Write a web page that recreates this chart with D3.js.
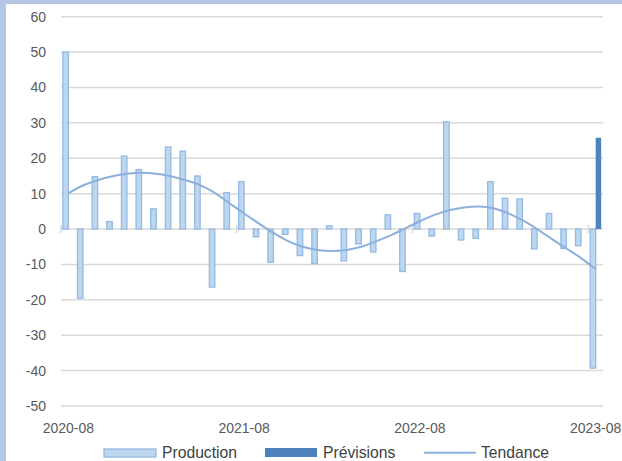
<!DOCTYPE html>
<html>
<head>
<meta charset="utf-8">
<script src="https://cdn.jsdelivr.net/npm/d3@7"></script>
<style>
  html, body { margin: 0; padding: 0; background: #b4c7e7; }
  svg { display: block; }
  text { font-family: "Liberation Sans", Arial, sans-serif; }
</style>
</head>
<body>
<svg id="chart" width="622" height="461"></svg>
<script>
const months = ["2020-08","2020-09","2020-10","2020-11","2020-12","2021-01","2021-02","2021-03","2021-04","2021-05","2021-06","2021-07",
  "2021-08","2021-09","2021-10","2021-11","2021-12","2022-01","2022-02","2022-03","2022-04","2022-05","2022-06","2022-07",
  "2022-08","2022-09","2022-10","2022-11","2022-12","2023-01","2023-02","2023-03","2023-04","2023-05","2023-06","2023-07","2023-08"];
const production = [50, -19.5, 14.8, 2.1, 20.6, 16.8, 5.7, 23.2, 22, 15, -16.4, 10.3,
  13.4, -2.2, -9.4, -1.5, -7.5, -9.8, 0.9, -9.0, -4.2, -6.5, 4.0, -12.0,
  4.4, -2.0, 30.3, -3.1, -2.6, 13.4, 8.7, 8.5, -5.6, 4.4, -5.5, -4.7, -39.3];
const forecastMonths = ["2023-08"];
const forecast = [25.8];
const trend = [10.1, 12.3, 13.8, 14.9, 15.6, 15.9, 15.6, 14.9, 13.8, 12.4, 10.2, 7.3,
  4.4, 1.6, -1.1, -3.4, -5.0, -5.9, -6.2, -5.9, -5.0, -3.5, -1.8, 0.2,
  2.2, 4.0, 5.3, 6.1, 6.4, 5.9, 4.5, 2.5, 0.0, -2.8, -5.5, -8.2, -11.3];
const yTicks = [60, 50, 40, 30, 20, 10, 0, -10, -20, -30, -40, -50];
const xTickLabels = ["2020-08", "2021-08", "2022-08", "2023-08"];
const seriesNames = ["Production", "Prévisions", "Tendance"];

const svg = d3.select("#chart");
svg.append("rect").attr("x", 6).attr("y", 4).attr("width", 622).attr("height", 461).attr("fill", "#ffffff");

const x = d3.scaleBand().domain(months).range([61, 603]).paddingInner(0).paddingOuter(0);
const xs = d3.scaleBand().domain(["Production", "Prévisions"]).range([0, x.bandwidth()]).paddingInner(0).paddingOuter(0.33);
const y = d3.scaleLinear().domain([-50, 60]).range([406, 16.7]);

// gridlines
svg.append("g").selectAll("line").data(yTicks).join("line")
  .attr("x1", 61).attr("x2", 603)
  .attr("y1", d => y(d)).attr("y2", d => y(d))
  .attr("stroke", "#d9d9d9").attr("stroke-width", 1.5);

// y labels
svg.append("g").selectAll("text").data(yTicks).join("text")
  .attr("x", 46).attr("y", d => y(d)).attr("dy", "0.35em")
  .attr("text-anchor", "end").attr("font-size", 14).attr("fill", "#595959")
  .text(d => d);

// x ticks on zero axis
svg.append("g").selectAll("line").data(xTickLabels).join("line")
  .attr("x1", d => x(d)).attr("x2", d => x(d))
  .attr("y1", y(0) - 4).attr("y2", y(0) + 4)
  .attr("stroke", "#d9d9d9").attr("stroke-width", 1.5);

// x labels
svg.append("g").selectAll("text").data(xTickLabels).join("text")
  .attr("x", d => x(d) + x.bandwidth() / 2).attr("y", 433)
  .attr("text-anchor", "middle").attr("font-size", 14).attr("fill", "#595959")
  .text(d => d);

// production bars
svg.append("g").selectAll("rect").data(months.map((m, i) => ({m, v: production[i]}))).join("rect")
  .attr("x", d => x(d.m) + xs("Production"))
  .attr("width", xs.bandwidth())
  .attr("y", d => y(Math.max(0, d.v)))
  .attr("height", d => Math.abs(y(d.v) - y(0)))
  .attr("fill", "#bdd7ee").attr("stroke", "#95b9e3").attr("stroke-width", 1.3);

// forecast bars
svg.append("g").selectAll("rect").data(forecastMonths.map((m, i) => ({m, v: forecast[i]}))).join("rect")
  .attr("x", d => x(d.m) + xs("Prévisions"))
  .attr("width", xs.bandwidth())
  .attr("y", d => y(Math.max(0, d.v)))
  .attr("height", d => Math.abs(y(d.v) - y(0)))
  .attr("fill", "#4f81bd");

// trend line
const line = d3.line()
  .x((d, i) => x(months[i]) + x.bandwidth() / 2)
  .y(d => y(d))
  .curve(d3.curveMonotoneX);
svg.append("path").datum(trend).attr("d", line)
  .attr("fill", "none").attr("stroke", "#8cb0dc").attr("stroke-width", 2);

// legend
const lg = svg.append("g");
lg.append("rect").attr("x", 104).attr("y", 449).attr("width", 52).attr("height", 8)
  .attr("fill", "#bdd7ee").attr("stroke", "#95b9e3").attr("stroke-width", 1.3);
lg.append("text").attr("x", 162).attr("y", 458).attr("font-size", 15.7).attr("fill", "#404040").text(seriesNames[0]);
lg.append("rect").attr("x", 265).attr("y", 448).attr("width", 52).attr("height", 9).attr("fill", "#4f81bd");
lg.append("text").attr("x", 323).attr("y", 458).attr("font-size", 15.7).attr("fill", "#404040").text(seriesNames[1]);
lg.append("line").attr("x1", 424).attr("x2", 476).attr("y1", 452.7).attr("y2", 452.7)
  .attr("stroke", "#8cb0dc").attr("stroke-width", 2);
lg.append("text").attr("x", 481).attr("y", 458).attr("font-size", 15.7).attr("fill", "#404040").text(seriesNames[2]);
</script>
</body>
</html>
